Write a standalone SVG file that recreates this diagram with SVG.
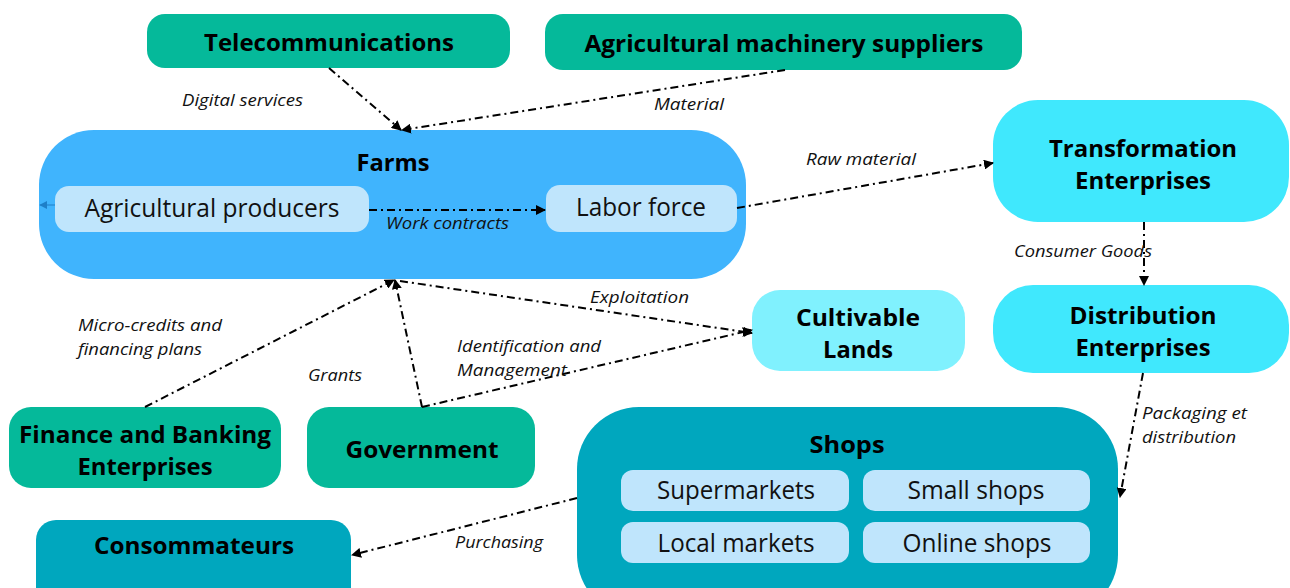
<svg xmlns="http://www.w3.org/2000/svg" width="1290" height="588" viewBox="0 0 1290 588">
<defs>
<marker id="ah" viewBox="0 0 10 10" refX="9" refY="5" markerWidth="10" markerHeight="10" markerUnits="userSpaceOnUse" orient="auto">
<path d="M0,0 L10,5 L0,10 z" fill="#000"/>
</marker>
<marker id="ahb" viewBox="0 0 10 10" refX="9" refY="5" markerWidth="8" markerHeight="8" markerUnits="userSpaceOnUse" orient="auto">
<path d="M0,0 L10,5 L0,10 z" fill="#1E7FC8"/>
</marker>
<style>
.green{fill:#05B99A}
.farm{fill:#40B4FD}
.cyan{fill:#40E8FD}
.lcyan{fill:#80F1FE}
.teal{fill:#00A7BE}
.inner{fill:#BFE5FC}
.t{font-family:"Open Sans","Noto Sans",sans-serif;font-weight:bold;font-size:24px;fill:#000;text-anchor:middle}
.n{font-family:"Open Sans","Noto Sans",sans-serif;font-size:25px;fill:#111;text-anchor:middle}
.l{font-family:"Open Sans","Noto Sans",sans-serif;font-style:italic;font-size:16px;fill:#111}
.c{fill:none;stroke:#000;stroke-width:2;stroke-dasharray:8 4 2 4;marker-end:url(#ah)}
</style>
</defs>
<rect width="1290" height="588" fill="#fff"/>

<g id="telecom">
<rect class="green" x="147" y="14" width="363" height="54" rx="18"/>
<text class="t" x="329" y="51" textLength="250" lengthAdjust="spacingAndGlyphs">Telecommunications</text>
</g>
<g id="machinery">
<rect class="green" x="545" y="14" width="477" height="56" rx="18"/>
<text class="t" x="784" y="52" textLength="399" lengthAdjust="spacingAndGlyphs">Agricultural machinery suppliers</text>
</g>
<g id="farms">
<rect class="farm" x="39" y="130" width="707" height="149" rx="55"/>
<text class="t" x="393" y="171" textLength="73" lengthAdjust="spacingAndGlyphs">Farms</text>
</g>
<g id="producers">
<rect class="inner" x="55" y="186" width="314" height="46" rx="14"/>
<text class="n" x="212" y="217" textLength="255" lengthAdjust="spacingAndGlyphs">Agricultural producers</text>
</g>
<g id="labor">
<rect class="inner" x="546" y="185" width="191" height="47" rx="14"/>
<text class="n" x="641" y="216" textLength="130" lengthAdjust="spacingAndGlyphs">Labor force</text>
</g>
<g id="transformation">
<rect class="cyan" x="993" y="100" width="296" height="122" rx="45"/>
<text class="t" x="1143" y="157" textLength="188" lengthAdjust="spacingAndGlyphs">Transformation</text>
<text class="t" x="1143" y="189" textLength="136" lengthAdjust="spacingAndGlyphs">Enterprises</text>
</g>
<g id="distribution">
<rect class="cyan" x="993" y="285" width="296" height="88" rx="40"/>
<text class="t" x="1143" y="324" textLength="147" lengthAdjust="spacingAndGlyphs">Distribution</text>
<text class="t" x="1143" y="356" textLength="135" lengthAdjust="spacingAndGlyphs">Enterprises</text>
</g>
<g id="lands">
<rect class="lcyan" x="752" y="290" width="213" height="81" rx="28"/>
<text class="t" x="858" y="326" textLength="124" lengthAdjust="spacingAndGlyphs">Cultivable</text>
<text class="t" x="858" y="358" textLength="70" lengthAdjust="spacingAndGlyphs">Lands</text>
</g>
<g id="shops">
<rect class="teal" x="577" y="407" width="541" height="210" rx="62"/>
<text class="t" x="847" y="453" textLength="75" lengthAdjust="spacingAndGlyphs">Shops</text>
</g>
<g id="supermarkets">
<rect class="inner" x="621" y="470" width="228" height="41" rx="12"/>
<text class="n" x="736" y="499" textLength="158" lengthAdjust="spacingAndGlyphs">Supermarkets</text>
</g>
<g id="smallshops">
<rect class="inner" x="863" y="470" width="227" height="41" rx="12"/>
<text class="n" x="976" y="499" textLength="137" lengthAdjust="spacingAndGlyphs">Small shops</text>
</g>
<g id="localmarkets">
<rect class="inner" x="621" y="522" width="228" height="41" rx="12"/>
<text class="n" x="736" y="552" textLength="157" lengthAdjust="spacingAndGlyphs">Local markets</text>
</g>
<g id="onlineshops">
<rect class="inner" x="863" y="522" width="227" height="41" rx="12"/>
<text class="n" x="977" y="552" textLength="149" lengthAdjust="spacingAndGlyphs">Online shops</text>
</g>
<g id="consommateurs">
<rect class="teal" x="36" y="520" width="315" height="90" rx="20"/>
<text class="t" x="194" y="554" textLength="200" lengthAdjust="spacingAndGlyphs">Consommateurs</text>
</g>
<g id="finance">
<rect class="green" x="9" y="407" width="272" height="81" rx="22"/>
<text class="t" x="145" y="443" textLength="252" lengthAdjust="spacingAndGlyphs">Finance and Banking</text>
<text class="t" x="145" y="475" textLength="135" lengthAdjust="spacingAndGlyphs">Enterprises</text>
</g>
<g id="government">
<rect class="green" x="307" y="407" width="228" height="81" rx="22"/>
<text class="t" x="422" y="458" textLength="153" lengthAdjust="spacingAndGlyphs">Government</text>
</g>

<g id="connectors">
<path class="c" d="M329,68 L401,130"/>
<path class="c" d="M785,70 L402,130"/>
<path class="c" d="M369,210 L545,210"/>
<path d="M55,205 L40,205" fill="none" stroke="#1E7FC8" stroke-width="1" marker-end="url(#ahb)"/>
<path class="c" d="M737,208 L993,163"/>
<path class="c" d="M1144,222 L1144,285"/>
<path class="c" d="M1143,373 L1120,497"/>
<path class="c" d="M577,498 L352,555"/>
<path class="c" d="M145,407 L394,280"/>
<path class="c" d="M422,407 L395,280"/>
<path class="c" d="M422,407 L752,330"/>
<path class="c" d="M400,281 L752,333"/>
</g>

<g id="labels">
<text class="l" x="182" y="106" textLength="121" lengthAdjust="spacingAndGlyphs">Digital services</text>
<text class="l" x="654" y="110" textLength="70" lengthAdjust="spacingAndGlyphs">Material</text>
<text class="l" x="806" y="165" textLength="110" lengthAdjust="spacingAndGlyphs">Raw material</text>
<text class="l" x="386" y="229" textLength="123" lengthAdjust="spacingAndGlyphs">Work contracts</text>
<text class="l" x="1014" y="257" textLength="138" lengthAdjust="spacingAndGlyphs">Consumer Goods</text>
<text class="l" x="590" y="303" textLength="99" lengthAdjust="spacingAndGlyphs">Exploitation</text>
<text class="l" x="78" y="331" textLength="144" lengthAdjust="spacingAndGlyphs">Micro-credits and</text>
<text class="l" x="78" y="355" textLength="124" lengthAdjust="spacingAndGlyphs">financing plans</text>
<text class="l" x="308" y="381" textLength="54" lengthAdjust="spacingAndGlyphs">Grants</text>
<text class="l" x="457" y="352" textLength="144" lengthAdjust="spacingAndGlyphs">Identification and</text>
<text class="l" x="457" y="376" textLength="110" lengthAdjust="spacingAndGlyphs">Management</text>
<text class="l" x="1142" y="419" textLength="105" lengthAdjust="spacingAndGlyphs">Packaging et</text>
<text class="l" x="1142" y="443" textLength="94" lengthAdjust="spacingAndGlyphs">distribution</text>
<text class="l" x="455" y="548" textLength="88" lengthAdjust="spacingAndGlyphs">Purchasing</text>
</g>
</svg>
